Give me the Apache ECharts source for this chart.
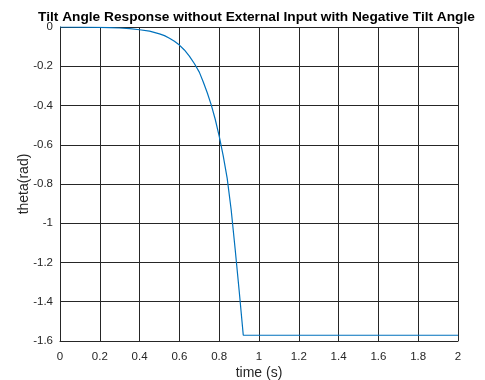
<!DOCTYPE html>
<html>
<head>
<meta charset="utf-8">
<script src="https://cdn.jsdelivr.net/npm/echarts@6/dist/echarts.min.js"></script>
<style>
  html, body { margin: 0; padding: 0; background: #fff; }
  #chart { width: 485px; height: 380px; }
</style>
</head>
<body>
<div id="chart"></div>
<script>
// Simulated tilt angle (rad) of the pendulum falling from a small negative tilt,
// saturating at -pi/2 once it hits the stop.
const timeS = [0, 0.1, 0.2, 0.25, 0.3, 0.35, 0.4, 0.45, 0.5, 0.525, 0.55, 0.575, 0.6,
  0.625, 0.65, 0.675, 0.7, 0.72, 0.74, 0.76, 0.78, 0.8, 0.82, 0.84, 0.86, 0.88, 0.9,
  0.921, 2];
const thetaRad = [0, -0.001, -0.002, -0.003, -0.005, -0.008, -0.014, -0.021, -0.035,
  -0.044, -0.057, -0.073, -0.092, -0.117, -0.148, -0.186, -0.23, -0.28, -0.335,
  -0.397, -0.47, -0.556, -0.655, -0.77, -0.93, -1.13, -1.34, -1.5708, -1.5708];

const xTicks = { min: 0, max: 2, step: 0.2 };
const yTicks = { min: -1.6, max: 0, step: 0.2 };

const titleText = 'Tilt Angle Response without External Input with Negative Tilt Angle';
const xLabel = 'time (s)';
const yLabel = 'theta(rad)';

const ink = '#262626';
const font = 'Liberation Sans, Arial, Helvetica, sans-serif';

const chart = echarts.init(document.getElementById('chart'), null, { renderer: 'canvas' });

chart.setOption({
  animation: false,
  backgroundColor: '#ffffff',
  title: {
    text: titleText,
    left: 251.5,
    textAlign: 'center',
    top: 5,
    textStyle: { fontFamily: font, fontSize: 13.7, fontWeight: 'bold', color: '#000' }
  },
  grid: {
    left: 60, right: 27, top: 27, bottom: 39,
    containLabel: false, outerBoundsMode: 'none'
  },
  xAxis: {
    type: 'value',
    min: xTicks.min, max: xTicks.max, interval: xTicks.step,
    name: xLabel, nameLocation: 'middle', nameGap: 25, nameMoveOverlap: false,
    nameTextStyle: { fontFamily: font, fontSize: 14, color: ink },
    axisLine: { show: true, onZero: false, lineStyle: { color: ink, width: 1 } },
    axisTick: { show: false },
    axisLabel: { fontFamily: font, fontSize: 11.5, color: ink, margin: 10 },
    splitLine: { show: true, lineStyle: { color: ink, width: 1 } }
  },
  yAxis: {
    type: 'value',
    min: yTicks.min, max: yTicks.max, interval: yTicks.step,
    name: yLabel, nameLocation: 'middle', nameGap: 29, nameMoveOverlap: false,
    nameTextStyle: { fontFamily: font, fontSize: 14, color: ink },
    axisLine: { show: true, onZero: false, lineStyle: { color: ink, width: 1 } },
    axisTick: { show: false },
    axisLabel: { fontFamily: font, fontSize: 11.5, color: ink, margin: 7 },
    splitLine: { show: true, lineStyle: { color: ink, width: 1 } }
  },
  series: [{
    type: 'line',
    data: timeS.map((t, i) => [t, thetaRad[i]]),
    showSymbol: false,
    smooth: false,
    lineStyle: { color: '#0072BD', width: 1.2 },
    z: 5
  }]
});
</script>
</body>
</html>
